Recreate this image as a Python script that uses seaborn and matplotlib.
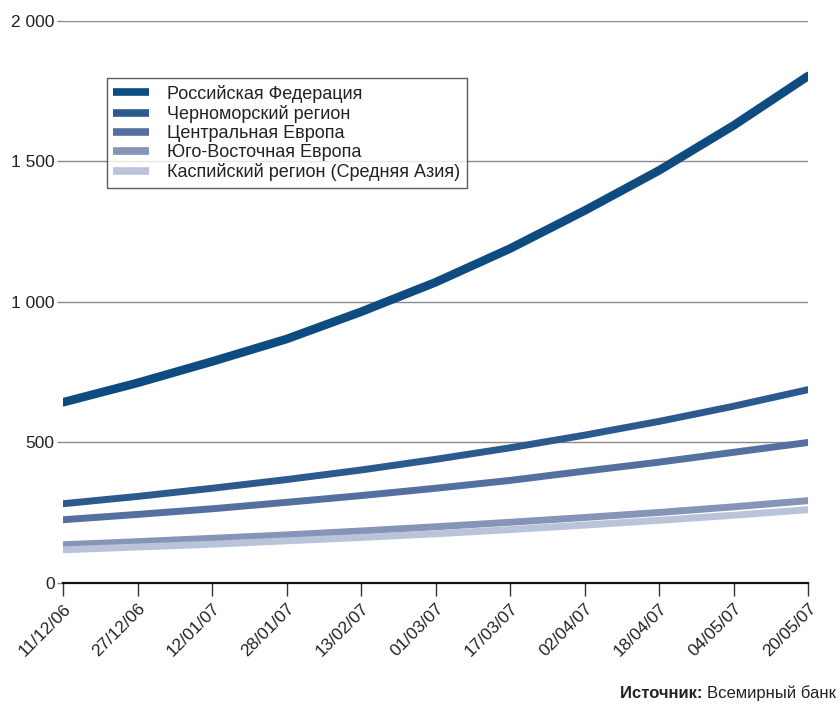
import matplotlib
matplotlib.use("Agg")
import matplotlib.pyplot as plt
import seaborn as sns
import pandas as pd

dates = ["11/12/06", "27/12/06", "12/01/07", "28/01/07", "13/02/07", "01/03/07",
         "17/03/07", "02/04/07", "18/04/07", "04/05/07", "20/05/07"]

russia = [643, 712, 788, 868, 965, 1070, 1190, 1325, 1468, 1628, 1804]
black_sea = [282, 308, 337, 368, 402, 440, 481, 526, 575, 629, 688]
central_europe = [225, 244, 264, 287, 311, 337, 365, 398, 430, 465, 500]
se_europe = [136, 147, 159, 171, 185, 200, 216, 233, 251, 271, 293]
caspian = [118, 128, 138, 150, 162, 175, 190, 206, 223, 241, 261]

series_names = ["Российская Федерация", "Черноморский регион", "Центральная Европа",
                "Юго-Восточная Европа", "Каспийский регион (Средняя Азия)"]
series_values = [russia, black_sea, central_europe, se_europe, caspian]
colors = ["#0d4b80", "#2d5a8e", "#5470a0", "#8694b8", "#b9c3da"]
widths = [6.2, 5.0, 5.0, 5.0, 5.0]

yticks = [0, 500, 1000, 1500, 2000]
ytick_labels = ["0", "500", "1 000", "1 500", "2 000"]

sns.set_theme(style="white")
plt.rcParams["font.family"] = ["Liberation Sans", "DejaVu Sans"]

x_dates = pd.to_datetime(dates, format="%d/%m/%y")
rows = []
for name, vals in zip(series_names, series_values):
    for d, v in zip(x_dates, vals):
        rows.append({"date": d, "value": v, "series": name})
df = pd.DataFrame(rows)

fig = plt.figure(figsize=(8.4, 7.07), dpi=100)
ax = fig.add_axes([0.075, 0.1754, 0.887, 0.795])

# gridlines
for yv in yticks[1:]:
    ax.axhline(yv, color="#8a8a8a", lw=1.0, zorder=1)

for name, col, lw in zip(series_names, colors, widths):
    sub = df[df["series"] == name]
    sns.lineplot(data=sub, x="date", y="value", ax=ax, color=col, lw=lw,
                 label=name, zorder=3, solid_capstyle="round", solid_joinstyle="round")

ax.set_xlim(x_dates[0], x_dates[-1])
ax.set_ylim(0, 2000)
ax.set_xlabel("")
ax.set_ylabel("")

for side in ["top", "right", "left"]:
    ax.spines[side].set_visible(False)
ax.spines["bottom"].set_color("#111111")
ax.spines["bottom"].set_linewidth(1.6)
ax.spines["bottom"].set_zorder(4)

ax.set_yticks(yticks)
ax.set_yticklabels(ytick_labels, fontsize=12.5, color="#222222")
ax.tick_params(axis="y", length=4, width=1.0, color="#8a8a8a", pad=2, left=True)

ax.set_xticks(x_dates)
ax.set_xticklabels(dates, fontsize=12.5, color="#222222", rotation=45,
                   ha="right", va="top", rotation_mode="anchor")
ax.tick_params(axis="x", length=9, width=1.0, color="#333333", pad=4, bottom=True, direction="out")

leg = ax.legend(loc="upper left", bbox_to_anchor=(0.127, 0.889),
                bbox_transform=fig.transFigure, frameon=True, fancybox=False,
                fontsize=13, handlelength=2.0, handletextpad=1.0,
                labelspacing=0.12, borderpad=0.35, borderaxespad=0)
leg.get_frame().set_edgecolor("#333333")
leg.get_frame().set_linewidth(1.0)
for line in leg.get_lines():
    line.set_linewidth(5.5)
    line.set_solid_capstyle("butt")
for t in leg.get_texts():
    t.set_color("#222222")

t1 = fig.text(0.995, 0.008, "Всемирный банк", ha="right", va="bottom",
              fontsize=12, color="#222222")
fig.canvas.draw()
ax.annotate("Источник: ", xy=(0, 0), xycoords=t1, ha="right", va="bottom",
            fontsize=12, fontweight="bold", color="#222222", annotation_clip=False)

fig.savefig("out.png", dpi=100, facecolor="white")
